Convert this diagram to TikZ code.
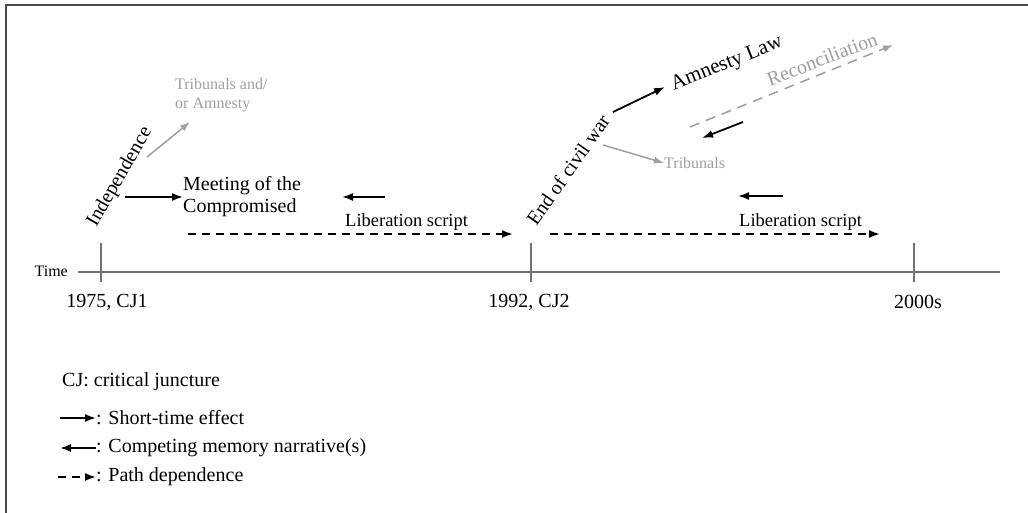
\documentclass[tikz,border=0pt]{standalone}
\usepackage{fontspec}
\setmainfont{Liberation Serif}
\usetikzlibrary{arrows.meta, positioning}
\tikzstyle{arrow} = [line width=1.8pt,-{Latex[length=11pt,width=8pt]}]

\begin{document}
\begin{tikzpicture}[x=1pt, y=-1pt,
    maintext/.style={inner sep=0pt, font=\fontsize{20}{22}\selectfont},
    minortext/.style={inner sep=0pt, text=gray!75, font=\fontsize{16}{19}\selectfont},
    scripttext/.style={maintext, font=\fontsize{18.5}{22}\selectfont},
    tickmark/.style={gray!90!black, line width=1.2pt},
    pathdep/.style={arrow, dash pattern=on 8pt off 6pt},
    faded/.style={line width=1.5pt, gray!75, -{Latex[length=10pt,width=7pt]}},
    fadeddash/.style={faded, dash pattern=on 10pt off 7pt}
  ]
    \useasboundingbox (0,0) rectangle (1028,513);
    \draw[line width=2pt, gray!60!black] (6,513) -- (6,5) -- (1028,5);

    % Time axis
    \coordinate (tstart) at (78,272);
    \coordinate (tend) at (1000,272);
    \draw[tickmark] (tstart) -- (tend);
    \node[anchor=east, inner sep=0pt, font=\fontsize{16}{19}\selectfont] (time) at (68,271) {Time};
    \draw[tickmark] (101,243) -- (101,282);
    \draw[tickmark] (531,243) -- (531,282);
    \draw[tickmark] (914,243) -- (914,282);
    \node[maintext] (cj1) at (107,302) {1975, CJ1};
    \node[maintext] (cj2) at (529,302) {1992, CJ2};
    \node[maintext] (late) at (918,302) {2000s};

    % Juncture 1
    \node[maintext, rotate=60] (indep) at (120,177) {Independence};
    \node[minortext, anchor=west, align=left] (trib1) at (175,95) {Tribunals and/\\or Amnesty};
    \node[maintext, anchor=west, align=left] (meet) at (183,197) {Meeting of the\\Compromised};
    \node[scripttext, anchor=west] (lib1) at (345,222) {Liberation script};
    \coordinate (i1) at (147,157);
    \coordinate (i2) at (125,197);
    \coordinate (c1) at (385,197);
    \coordinate (c2) at (342,197);
    \coordinate (p1) at (188,234);
    \coordinate (p2) at (513,234);
    \draw[faded] (i1) -- (190,122);
    \draw[arrow] (i2) -- (meet.west);
    \draw[arrow] (c1) -- (c2);
    \draw[pathdep] (p1) -- (p2);

    % Juncture 2
    \node[maintext, rotate=55] (civil) at (568,170) {End of civil war};
    \node[maintext, rotate=22, font=\fontsize{21}{24}\selectfont] (amn) at (727,64) {Amnesty Law};
    \node[minortext, rotate=21, font=\fontsize{20}{22}\selectfont] (recon) at (822,59) {Reconciliation};
    \node[minortext, anchor=west] (trib2) at (664,163) {Tribunals};
    \node[scripttext, anchor=west] (lib2) at (739,222) {Liberation script};
    \coordinate (e1) at (613,112);
    \coordinate (e2) at (665,87);
    \coordinate (e3) at (603,145);
    \coordinate (r1) at (690,127);
    \coordinate (r2) at (893,45);
    \coordinate (c3) at (743,122);
    \coordinate (c4) at (702,138);
    \coordinate (c5) at (783,196);
    \coordinate (c6) at (738,196);
    \coordinate (p3) at (550,234);
    \coordinate (p4) at (880,234);
    \draw[arrow] (e1) -- (e2);
    \draw[faded] (e3) -- (trib2.west);
    \draw[fadeddash] (r1) -- (r2);
    \draw[arrow] (c3) -- (c4);
    \draw[arrow] (c5) -- (c6);
    \draw[pathdep] (p3) -- (p4);

    % Legend
    \node[maintext, anchor=west] (cj) at (62,382) {CJ: critical juncture};
    \coordinate (l1) at (60,418);
    \coordinate (l2) at (60,448);
    \coordinate (l3) at (58,477);
    \node[maintext, anchor=west] (short) at (96,418) {: Short-time effect};
    \node[maintext, anchor=west] (compete) at (96,448) {: Competing memory narrative(s)};
    \node[maintext, anchor=west] (pathleg) at (96,477) {: Path dependence};
    \draw[arrow] (l1) -- (short.west);
    \draw[arrow] (compete.west) -- (l2);
    \draw[pathdep] (l3) -- (pathleg.west);
\end{tikzpicture}
\end{document}
